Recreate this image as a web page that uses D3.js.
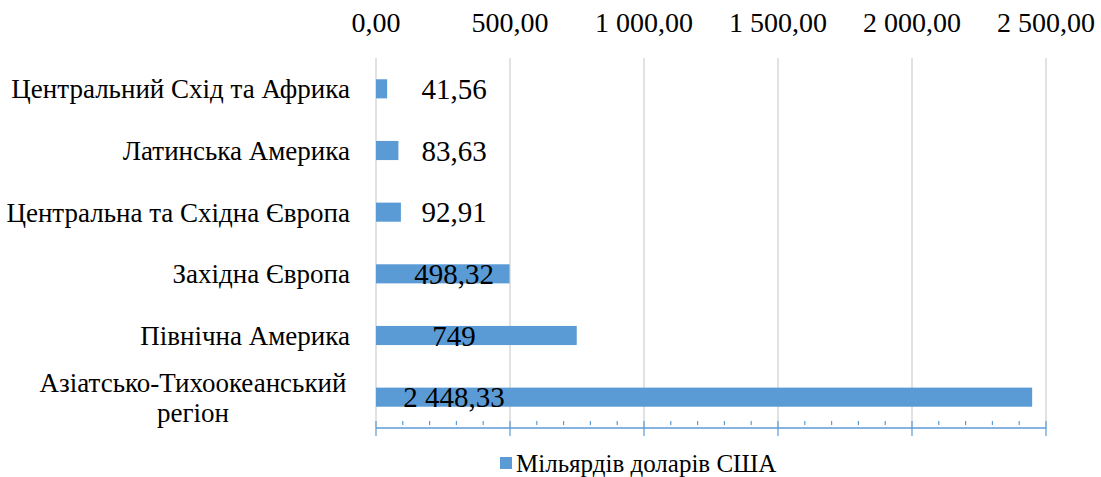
<!DOCTYPE html>
<html>
<head>
<meta charset="utf-8">
<script src="https://cdn.jsdelivr.net/npm/d3@7"></script>
</head>
<body style="margin:0;background:#fff">
<svg id="chart"></svg>
<script>
const width = 1101;
const height = 477;

// data
const categories = [
  "Центральний Схід та Африка",
  "Латинська Америка",
  "Центральна та Східна Європа",
  "Західна Європа",
  "Північна Америка",
  "Азіатсько-Тихоокеанський регіон"
];
const values = [41.56, 83.63, 92.91, 498.32, 749, 2448.33];
const tickValues = [0, 500, 1000, 1500, 2000, 2500];
const seriesName = "Мільярдів доларів США";

const barColor = "#5b9bd5";
const fontFamily = '"Liberation Serif"';

const margin = {top: 58, right: 55, bottom: 49, left: 376};

const svg = d3.select("#chart")
  .attr("width", width)
  .attr("height", height)
  .attr("viewBox", [0, 0, width, height]);

const ua = d3.formatLocale({decimal: ",", thousands: " ", grouping: [3], currency: ["", ""]});
const fmtTick = ua.format(",.2f");
const fmtVal = v => Number.isInteger(v) ? ua.format(",")(v) : ua.format(",.2f")(v);

const x = d3.scaleLinear()
  .domain([0, 2500])
  .range([margin.left, width - margin.right]);

const y = d3.scaleBand()
  .domain(categories)
  .range([margin.top, height - margin.bottom])
  .paddingInner(0.69)
  .paddingOuter(0.345);

const plotBottom = height - margin.bottom;

// gridlines
svg.append("g")
  .selectAll("line")
  .data(tickValues)
  .join("line")
    .attr("x1", d => x(d))
    .attr("x2", d => x(d))
    .attr("y1", margin.top)
    .attr("y2", plotBottom)
    .attr("stroke", "#d9d9d9")
    .attr("stroke-width", 1.5);

// top tick labels
svg.append("g")
  .selectAll("text")
  .data(tickValues)
  .join("text")
    .attr("x", d => x(d))
    .attr("y", 32)
    .attr("text-anchor", "middle")
    .style("font-family", fontFamily)
    .style("font-size", "28px")
    .attr("fill", "#000")
    .text(d => fmtTick(d));

// bottom axis (blue line, major + minor ticks)
const axisG = svg.append("g");
axisG.append("line")
  .attr("x1", x(0)).attr("x2", x(2500))
  .attr("y1", plotBottom).attr("y2", plotBottom)
  .attr("stroke", barColor).attr("stroke-width", 1.5);

axisG.selectAll(".major")
  .data(tickValues)
  .join("line")
    .attr("class", "major")
    .attr("x1", d => x(d)).attr("x2", d => x(d))
    .attr("y1", plotBottom - 7).attr("y2", plotBottom + 8)
    .attr("stroke", barColor).attr("stroke-width", 1.2);

axisG.selectAll(".minor")
  .data(d3.range(100, 2500, 100).filter(d => d % 500 !== 0))
  .join("line")
    .attr("class", "minor")
    .attr("x1", d => x(d)).attr("x2", d => x(d))
    .attr("y1", plotBottom - 7).attr("y2", plotBottom - 3)
    .attr("stroke", barColor).attr("stroke-width", 1.2);

// bars
svg.append("g")
  .selectAll("rect")
  .data(values)
  .join("rect")
    .attr("x", x(0))
    .attr("y", (d, i) => y(categories[i]))
    .attr("width", d => x(d) - x(0))
    .attr("height", y.bandwidth())
    .attr("fill", barColor);

// value labels
svg.append("g")
  .selectAll("text")
  .data(values)
  .join("text")
    .attr("x", x(0) + 78)
    .attr("y", (d, i) => y(categories[i]) + y.bandwidth() / 2)
    .attr("dy", "0.35em")
    .attr("text-anchor", "middle")
    .style("font-family", fontFamily)
    .style("font-size", "29px")
    .attr("fill", "#000")
    .text(d => fmtVal(d));

// category labels, wrapped when too wide
const catG = svg.append("g");
categories.forEach(c => {
  const cx = 193;
  const t = catG.append("text")
    .style("font-family", fontFamily)
    .style("font-size", "27px")
    .attr("fill", "#000");
  t.text(c);
  const w = t.node().getComputedTextLength();
  if (w > 350) {
    t.text(null).attr("text-anchor", "middle");
    const words = c.split(" ");
    const lines = [words.slice(0, -1).join(" "), words[words.length - 1]];
    const cy = y(c) + y.bandwidth() / 2;
    lines.forEach((ln, k) => {
      t.append("tspan")
        .attr("x", cx)
        .attr("y", cy + (k - (lines.length - 1) / 2) * 30)
        .attr("dy", "0.35em")
        .text(ln);
    });
  } else {
    t.attr("text-anchor", "end")
      .attr("x", 350)
      .attr("y", y(c) + y.bandwidth() / 2)
      .attr("dy", "0.35em");
  }
});

// legend
const leg = svg.append("g").attr("transform", "translate(500,457)");
leg.append("rect").attr("width", 12).attr("height", 12).attr("fill", barColor);
leg.append("text")
  .attr("x", 16).attr("y", 6).attr("dy", "0.35em")
  .style("font-family", fontFamily)
  .style("font-size", "25px")
  .attr("fill", "#000")
  .text(seriesName);
</script>
</body>
</html>
